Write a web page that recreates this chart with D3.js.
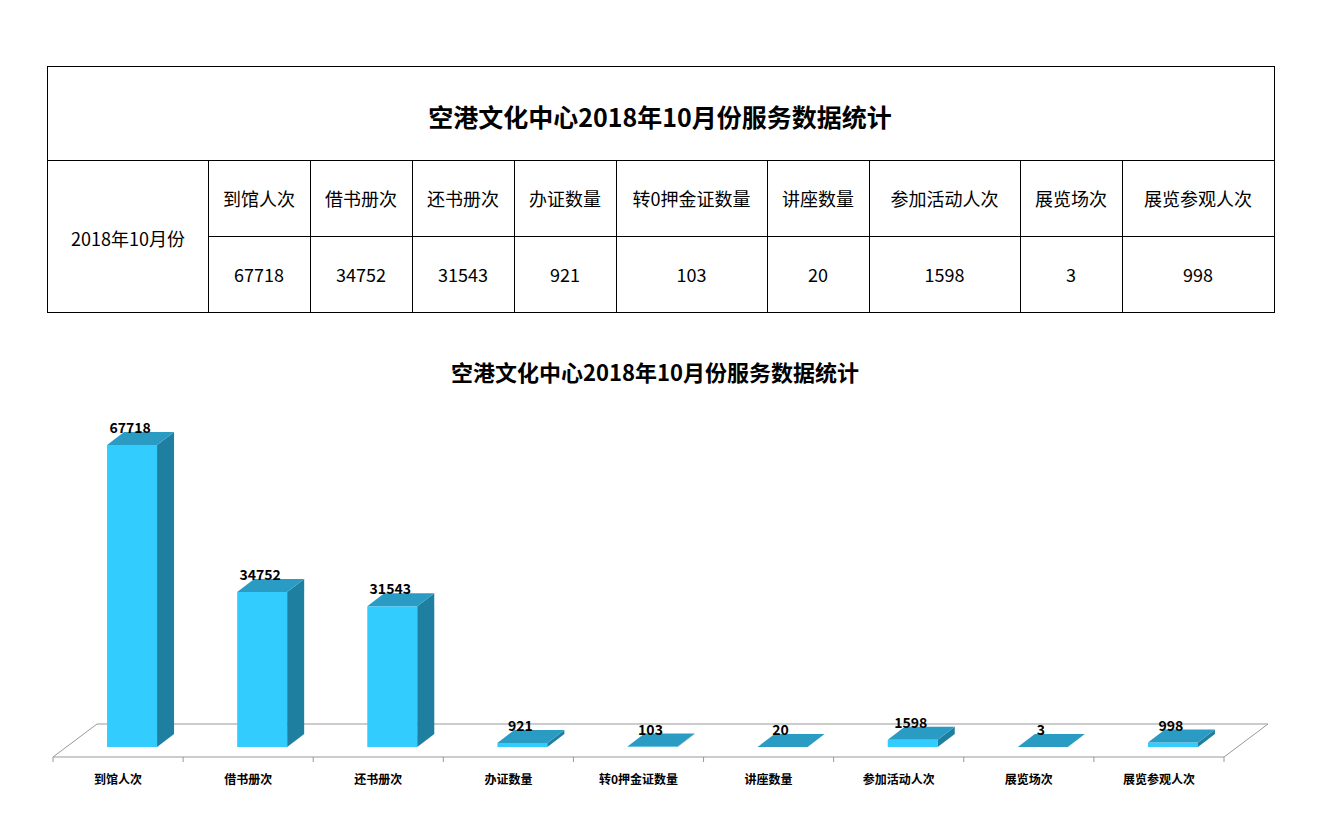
<!DOCTYPE html>
<html><head><meta charset="utf-8">
<script src="https://cdn.jsdelivr.net/npm/d3@7"></script>
<style>body{margin:0;background:#fff;font-family:"Noto Sans CJK SC","Noto Sans",sans-serif}</style>
</head><body><svg></svg>
<script>
const width = 1323, height = 831;
const title = "空港文化中心2018年10月份服务数据统计";
const rowLabel = "2018年10月份";
const categories = ["到馆人次","借书册次","还书册次","办证数量","转0押金证数量","讲座数量","参加活动人次","展览场次","展览参观人次"];
const values = [67718, 34752, 31543, 921, 103, 20, 1598, 3, 998];

const svg = d3.select("svg").attr("width", width).attr("height", height);

// ---- table ----
const colEdges = [47, 208, 310, 412, 514, 616, 767, 869, 1020, 1122, 1274];
const rows = [66, 160, 236, 312];
const t = svg.append("g").attr("stroke", "#000").attr("stroke-width", 1);
t.append("rect").attr("x", 47.5).attr("y", 66.5).attr("width", 1227).attr("height", 246).attr("fill", "none");
t.append("line").attr("x1", 47).attr("x2", 1274).attr("y1", 160.5).attr("y2", 160.5);
t.append("line").attr("x1", 208).attr("x2", 1274).attr("y1", 236.5).attr("y2", 236.5);
colEdges.slice(1, -1).forEach(x => t.append("line").attr("x1", x + .5).attr("x2", x + .5).attr("y1", 160).attr("y2", 312));

svg.append("text").attr("x", 660).attr("y", 127).attr("text-anchor", "middle")
  .style("font-size", "25px").style("font-weight", "bold").text(title);
svg.append("text").attr("x", 128).attr("y", 246).attr("text-anchor", "middle")
  .style("font-size", "18px").text(rowLabel);
categories.forEach((c, i) => {
  const cx = (colEdges[i + 1] + colEdges[i + 2]) / 2;
  svg.append("text").attr("x", cx).attr("y", 206).attr("text-anchor", "middle").style("font-size", "18px").text(c);
  svg.append("text").attr("x", cx).attr("y", 282).attr("text-anchor", "middle").style("font-size", "18px").text(values[i]);
});

// ---- chart ----
svg.append("text").attr("x", 655).attr("y", 381).attr("text-anchor", "middle")
  .style("font-size", "22px").style("font-weight", "bold").text(title);

const x0 = 53, x1 = 1224, floorY = 757;
const depthX = 44, depthY = -33;
const x = d3.scaleBand().domain(categories).range([x0, x1]);
const y = d3.scaleLinear().domain([0, 67718]).range([747, 445]);
const barW = 50, sx = 17, sy = -13;

// floor
const floor = svg.append("g").attr("fill", "none").attr("stroke", "#999");
floor.append("path").attr("d", `M${x0},${floorY} L${x0 + depthX},${floorY + depthY} L${x1 + depthX},${floorY + depthY} L${x1},${floorY} Z`);
categories.concat([null]).forEach((c, i) => {
  const px = x0 + x.step() * i;
  floor.append("line").attr("x1", px).attr("x2", px).attr("y1", floorY).attr("y2", floorY + 5);
});

const bars = svg.append("g");
categories.forEach((c, i) => {
  const bx = x(c) + x.step() / 2 - barW / 2 + 14;
  const yb = y(0), yt = y(values[i]);
  bars.append("rect").attr("x", bx).attr("y", yt).attr("width", barW).attr("height", yb - yt).attr("fill", "#33CCFF");
  bars.append("path").attr("fill", "#1F7FA0")
    .attr("d", `M${bx + barW},${yt} L${bx + barW + sx},${yt + sy} L${bx + barW + sx},${yb + sy} L${bx + barW},${yb} Z`);
  bars.append("path").attr("fill", "#2A9CC4")
    .attr("d", `M${bx},${yt} L${bx + sx},${yt + sy} L${bx + barW + sx},${yt + sy} L${bx + barW},${yt} Z`);
  svg.append("text").attr("x", bx + barW / 2 - 2).attr("y", yt + sy + 1).attr("text-anchor", "middle")
    .style("font-size", "14px").style("font-weight", "bold").text(values[i]);
  svg.append("text").attr("x", x(c) + x.step() / 2).attr("y", 784).attr("text-anchor", "middle")
    .style("font-size", "12px").style("font-weight", "bold").text(c);
});
</script></body></html>
